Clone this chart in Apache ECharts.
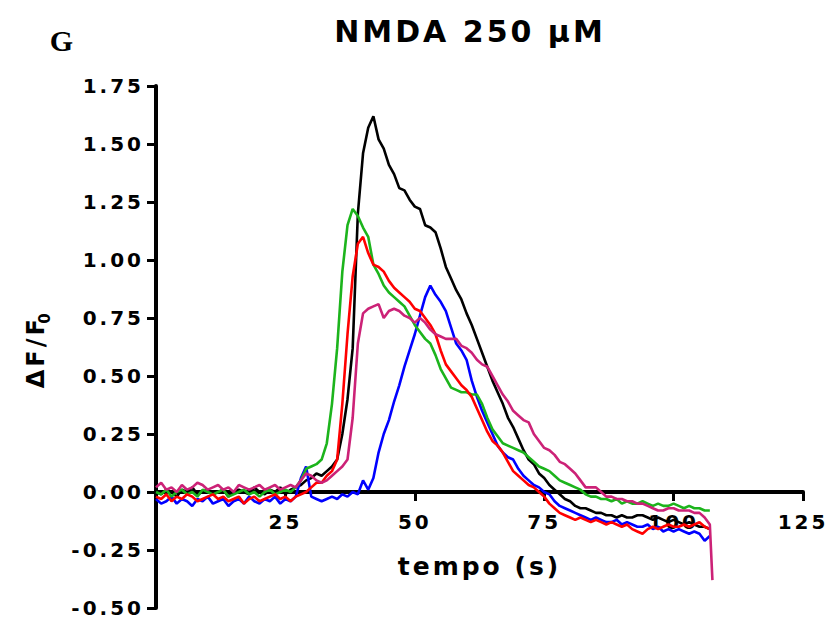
<!DOCTYPE html>
<html><head><meta charset="utf-8">
<script src="https://cdn.jsdelivr.net/npm/echarts@6/dist/echarts.min.js"></script>
<style>
html,body{margin:0;padding:0;background:#fff;}
#c{width:827px;height:623px;}
#c text{letter-spacing:3px;}
</style></head><body><div id="c"></div>
<script>
const timeS = [0,1,2,3,4,5,6,7,8,9,10,11,12,13,14,15,16,17,18,19,20,21,22,23,24,25,26,27,28,29,30,31,32,33,34,35,36,37,38,39,40,41,42,43,44,45,46,47,48,49,50,51,52,53,54,55,56,57,58,59,60,61,62,63,64,65,66,67,68,69,70,71,72,73,74,75,76,77,78,79,80,81,82,83,84,85,86,87,88,89,90,91,92,93,94,95,96,97,98,99,100,101,102,103,104,105,106,107,107.5];

const blackVals = [0.00,-0.01,0.01,0.00,-0.02,0.01,0.00,0.02,-0.01,0.00,0.01,-0.01,0.00,0.01,-0.02,0.00,0.01,0.00,-0.01,0.02,0.00,-0.01,0.01,0.00,0.02,-0.01,0.01,0.02,
0.03,0.05,0.06,0.08,0.07,0.09,0.11,0.14,0.25,0.40,
0.62,1.20,1.46,1.57,1.62,1.52,1.48,1.41,1.37,1.31,
1.30,1.26,1.23,1.22,1.15,1.14,1.12,1.05,0.97,0.92,
0.87,0.83,0.77,0.72,0.66,0.60,0.54,0.48,0.43,0.38,
0.32,0.28,0.23,0.18,0.14,0.12,0.08,0.06,0.03,0.01,
-0.01,-0.03,-0.04,-0.06,-0.07,-0.07,-0.08,-0.09,-0.09,-0.10,
-0.10,-0.11,-0.10,-0.11,-0.11,-0.10,-0.10,-0.11,-0.12,-0.11,
-0.12,-0.13,-0.12,-0.13,-0.14,-0.13,-0.14,-0.15,-0.15,-0.16];

const redVals = [-0.02,-0.03,-0.01,-0.04,-0.02,-0.03,-0.01,-0.02,-0.04,-0.03,-0.02,-0.01,-0.03,-0.02,-0.04,-0.03,-0.02,-0.05,-0.03,-0.02,-0.04,-0.03,-0.02,-0.01,-0.03,-0.02,-0.04,-0.02,-0.01,0.00,
0.02,0.04,0.04,0.07,0.09,0.14,0.38,0.68,
0.93,1.07,1.10,1.03,0.98,0.97,0.95,0.91,0.88,0.86,
0.84,0.82,0.79,0.78,0.75,0.72,0.68,0.61,0.55,0.52,
0.49,0.46,0.44,0.41,0.36,0.31,0.26,0.22,0.20,0.17,
0.13,0.09,0.07,0.05,0.03,0.02,0.00,-0.02,-0.05,-0.07,
-0.09,-0.10,-0.11,-0.12,-0.11,-0.12,-0.13,-0.12,-0.13,-0.14,
-0.13,-0.14,-0.15,-0.14,-0.16,-0.17,-0.18,-0.16,-0.15,-0.16,
-0.15,-0.14,-0.15,-0.15,-0.14,-0.15,-0.14,-0.13,-0.15,-0.16];

const greenVals = [0.00,-0.01,0.01,-0.02,0.00,0.01,-0.01,0.00,-0.02,0.01,0.00,-0.01,0.00,0.01,-0.02,-0.01,0.00,0.01,-0.01,0.00,-0.02,0.00,0.01,-0.01,0.00,0.01,0.00,0.02,
0.05,0.10,0.11,0.12,0.14,0.21,0.38,0.62,0.95,1.15,
1.22,1.19,1.14,1.10,0.98,0.94,0.89,0.86,0.84,0.82,
0.80,0.76,0.72,0.69,0.66,0.64,0.59,0.53,0.49,0.45,
0.44,0.43,0.43,0.42,0.42,0.38,0.32,0.27,0.24,0.21,
0.20,0.19,0.18,0.17,0.15,0.13,0.11,0.10,0.09,0.07,
0.05,0.04,0.03,0.02,0.01,-0.01,-0.02,-0.02,-0.03,-0.03,
-0.04,-0.03,-0.05,-0.04,-0.05,-0.05,-0.04,-0.05,-0.06,-0.05,
-0.06,-0.06,-0.05,-0.06,-0.07,-0.06,-0.07,-0.07,-0.08,-0.08];

const blueVals = [-0.03,-0.05,-0.04,-0.02,-0.05,-0.03,-0.04,-0.06,-0.03,-0.04,-0.02,-0.05,-0.04,-0.03,-0.06,-0.04,-0.03,-0.05,-0.02,-0.04,-0.05,-0.03,-0.04,-0.02,-0.05,-0.03,-0.04,-0.02,
0.06,0.11,-0.02,-0.03,-0.04,-0.03,-0.02,-0.03,-0.01,-0.02,
0.00,-0.01,0.05,0.01,0.06,0.17,0.25,0.31,0.39,0.46,
0.54,0.61,0.68,0.76,0.84,0.89,0.85,0.82,0.78,0.71,
0.64,0.61,0.57,0.48,0.41,0.35,0.30,0.25,0.20,0.17,
0.15,0.14,0.10,0.07,0.05,0.03,0.02,0.00,-0.01,-0.04,
-0.06,-0.07,-0.08,-0.09,-0.10,-0.11,-0.12,-0.11,-0.12,-0.13,
-0.13,-0.12,-0.14,-0.13,-0.14,-0.15,-0.15,-0.14,-0.16,-0.15,
-0.17,-0.16,-0.17,-0.16,-0.17,-0.18,-0.17,-0.18,-0.21,-0.19];

const magentaVals = [0.02,0.04,0.01,0.02,0.00,0.03,0.01,0.02,0.04,0.03,0.01,0.02,0.03,0.01,0.02,0.00,0.03,0.02,0.01,0.02,0.03,0.01,0.02,0.03,0.01,0.02,0.03,0.02,
0.05,0.08,0.07,0.05,0.04,0.05,0.07,0.09,0.11,0.14,
0.32,0.64,0.77,0.79,0.80,0.81,0.75,0.78,0.79,0.78,
0.76,0.75,0.73,0.75,0.73,0.70,0.68,0.67,0.66,0.66,
0.66,0.63,0.62,0.60,0.57,0.55,0.54,0.50,0.46,0.42,
0.39,0.35,0.33,0.31,0.30,0.25,0.22,0.19,0.18,0.16,
0.13,0.12,0.10,0.08,0.05,0.02,0.02,0.02,0.00,-0.02,
-0.02,-0.03,-0.03,-0.04,-0.04,-0.05,-0.05,-0.06,-0.07,-0.08,
-0.08,-0.07,-0.07,-0.08,-0.08,-0.08,-0.09,-0.09,-0.11,-0.14,
-0.38];

const xTickLabels = ['25','50','75','100','125'];
const yTickLabels = ['-0.50','-0.25','0.00','0.25','0.50','0.75','1.00','1.25','1.50','1.75'];

const FONT = '"DejaVu Sans", sans-serif';

function pairs(vals){ return vals.map((v,i)=>[timeS[i], v]); }

const seriesDefs = [
  {name:'black', vals:blackVals, color:'#000000'},
  {name:'blue', vals:blueVals, color:'#0000ff'},
  {name:'green', vals:greenVals, color:'#1cb41c'},
  {name:'red', vals:redVals, color:'#ff0000'},
  {name:'magenta', vals:magentaVals, color:'#cc2277'}
];

const GRID_TOP = 86, GRID_BOTTOM = 15, H = 623;
const Y_MIN = -0.5, Y_MAX = 1.75;
const plotH = H - GRID_TOP - GRID_BOTTOM;
// shift the x axis (line, ticks, labels, name) up so it sits on y = 0
const xAxisOffset = -plotH * (0 - Y_MIN) / (Y_MAX - Y_MIN);

const chart = echarts.init(document.getElementById('c'), null, {renderer:'svg'});
chart.setOption({
  animation:false,
  backgroundColor:'#ffffff',
  grid:{left:156, right:24, top:GRID_TOP, bottom:GRID_BOTTOM, containLabel:false, outerBoundsMode:'none'},
  graphic:[
    {type:'text', x:470, y:31, style:{text:'NMDA 250 μM', fontSize:30, fontWeight:'bold', fontFamily:'DejaVu Sans', fill:'#000', textAlign:'center', textVerticalAlign:'middle'}},
    {type:'text', x:63, y:40, style:{text:'G', fontSize:30, fontWeight:'bold', fontFamily:'Liberation Serif', fill:'#000', textAlign:'center', textVerticalAlign:'middle'}}
  ],
  xAxis:{
    type:'value', min:0, max:125, interval:25, position:'bottom', offset:xAxisOffset,
    axisLine:{show:true, onZero:false, lineStyle:{color:'#000', width:4}},
    axisTick:{show:true, length:9, lineStyle:{color:'#000', width:3}},
    splitLine:{show:false},
    axisLabel:{margin:20, color:'#000', fontFamily:FONT, fontWeight:'bold', fontSize:20,
      formatter:function(v){ const i = xTickLabels.indexOf(String(v)); return i>=0 ? xTickLabels[i] : ''; }},
    name:'tempo (s)', nameLocation:'middle', nameGap:62,
    nameTextStyle:{color:'#000', fontFamily:FONT, fontWeight:'bold', fontSize:25}
  },
  yAxis:{
    type:'value', min:Y_MIN, max:Y_MAX, interval:0.25,
    axisLine:{show:true, lineStyle:{color:'#000', width:4}},
    axisTick:{show:true, length:9, lineStyle:{color:'#000', width:3}},
    splitLine:{show:false},
    axisLabel:{margin:12, color:'#000', fontFamily:FONT, fontWeight:'bold', fontSize:20,
      formatter:function(v){ const s=v.toFixed(2); return yTickLabels.indexOf(s)>=0 ? s : ''; }},
    name:'{a|ΔF/F}{b|0}', nameLocation:'middle', nameRotate:90, nameGap:104,
    nameTextStyle:{rich:{
      a:{color:'#000', fontFamily:FONT, fontWeight:'bold', fontSize:24, lineHeight:32, verticalAlign:'middle'},
      b:{color:'#000', fontFamily:FONT, fontWeight:'bold', fontSize:15, lineHeight:32, verticalAlign:'bottom'}
    }}
  },
  series: seriesDefs.map(d=>({
    name:d.name, type:'line', data:pairs(d.vals), showSymbol:false, symbol:'none',
    connectNulls:false, clip:false,
    lineStyle:{color:d.color, width:2.6}, itemStyle:{color:d.color}
  }))
});
</script></body></html>
